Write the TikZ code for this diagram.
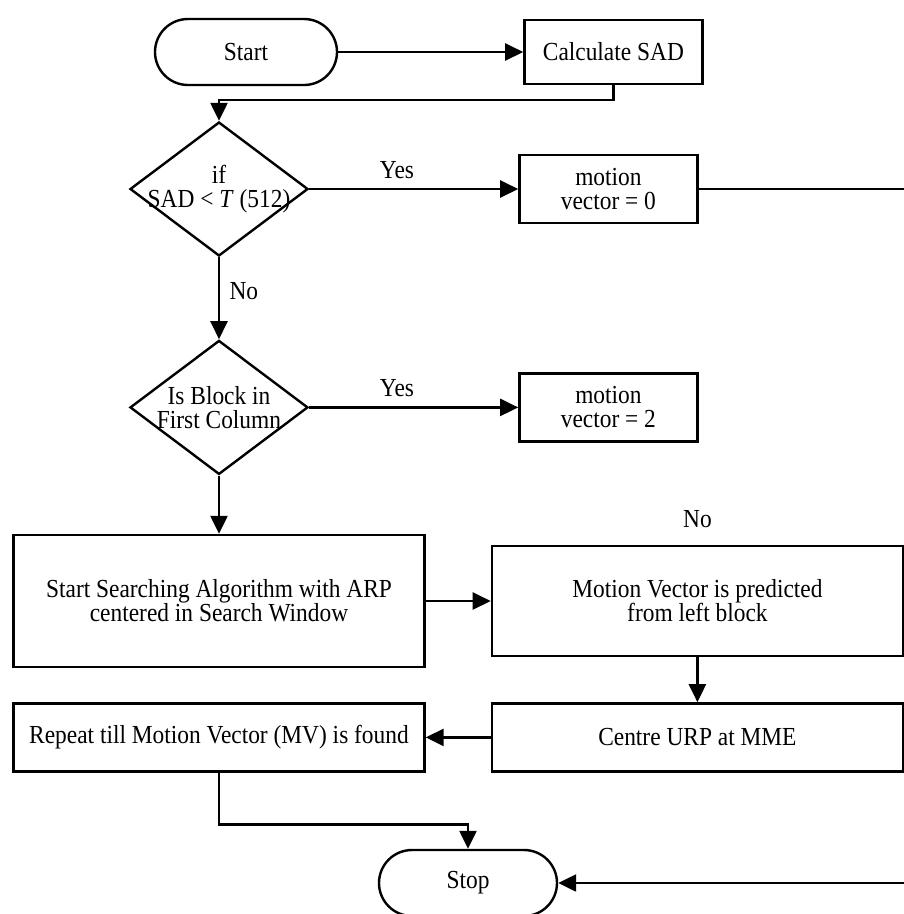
\documentclass[tikz,border=0pt]{standalone}
\usepackage{fontspec}
\setmainfont[FakeStretch=0.9]{Liberation Serif}
\usetikzlibrary{arrows.meta,shapes,positioning,calc}

\begin{document}
\begin{tikzpicture}[
    x=1pt,y=-1pt,
    font=\fontsize{26}{24}\selectfont,
    block/.style={rectangle,draw,line width=2.4pt,align=center,inner sep=0pt},
    term/.style={rectangle,draw,line width=2.4pt,rounded corners=33pt,minimum width=182pt,minimum height=66pt},
    decision/.style={diamond,draw,line width=2.4pt,minimum width=178pt,minimum height=134pt,inner sep=0pt},
    arrow/.style={line width=2.4pt,-{Triangle[length=18pt,width=17pt]}}
]
    \clip (0,0) rectangle (904,914);

    % top row
    \node[term] (start) at (246,52) {Start};
    \node[block,minimum width=178pt,minimum height=64pt,right=185pt of start] (calc) {Calculate SAD};

    % decisions
    \node[decision,label={[align=center]center:{if\\SAD < \textit{T} (512)}}] (ifsad) at (219,189) {};
    \node[block,minimum width=178pt,minimum height=68pt,right=209pt of ifsad] (mvzero) {motion\\vector = 0};
    \node[decision,below=82pt of ifsad,label={[align=center]center:{Is Block in\\First Column}}] (firstcol) {};
    \node[block,minimum width=178pt,minimum height=68pt,right=209pt of firstcol] (mvtwo) {motion\\vector = 2};

    % search part
    \node[block,minimum width=411pt,minimum height=132pt] (search) at (219,601) {Start Searching Algorithm with ARP\\centered in Search Window};
    \node[block,minimum width=411pt,minimum height=110pt,right=65pt of search] (predict) {Motion Vector is predicted\\from left block};
    \node[above=14pt of predict] (nolabel) {No};
    \node[block,minimum width=411pt,minimum height=68pt,below=45pt of predict] (centre) {Centre URP at MME};
    \node[block,minimum width=411pt,minimum height=68pt,left=65pt of centre] (repeat) {Repeat till Motion Vector (MV) is found};
    \node[term,minimum width=178pt] (stop) at (468,883) {Stop};

    \draw[arrow] (start) -- (calc);
    \draw[arrow] (calc.south) -- ++(0,15) -| (ifsad.north);
    \draw[arrow] (ifsad) -- node[above=6pt,pos=0.42] (yesone) {Yes} (mvzero);
    \draw[arrow] (mvzero.east) -- ++(250,0) |- (stop.east);
    \draw[arrow] (ifsad) -- node[right=6pt,pos=0.41] (noone) {No} (firstcol);
    \draw[arrow] (firstcol) -- node[above=6pt,pos=0.42] (yestwo) {Yes} (mvtwo);
    \draw[arrow] (firstcol) -- (search);
    \draw[arrow] (search.east) -- (search.east -| predict.west);
    \draw[arrow] (predict) -- (centre);
    \draw[arrow] (centre) -- (repeat);
    \draw[arrow] (repeat.south) -- ++(0,52) -| (stop.north);
\end{tikzpicture}
\end{document}
